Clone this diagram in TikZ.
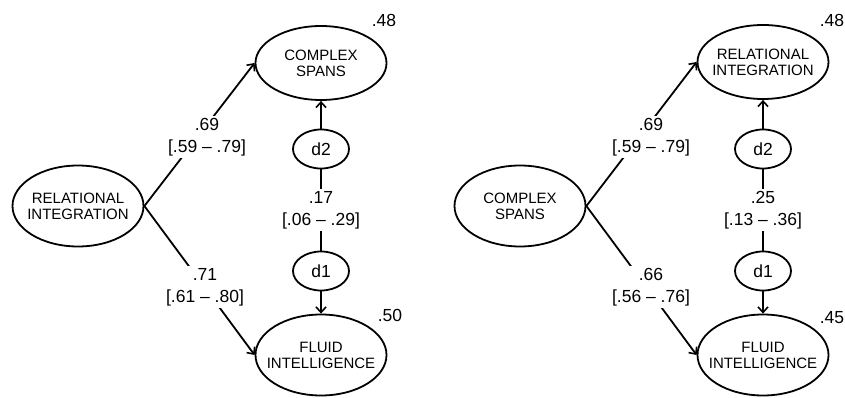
\documentclass[tikz,border=0pt]{standalone}
\usepackage{fontspec}
\setmainfont{Liberation Sans}
\usetikzlibrary{shapes.geometric,arrows.meta}
\begin{document}
\begin{tikzpicture}[x=1pt,y=-1pt,
  lat/.style={ellipse,draw,line width=1.8pt,minimum width=131pt,minimum height=81pt,inner xsep=-25pt,inner ysep=-12pt,align=center,font=\fontsize{15}{16}\selectfont},
  latsm/.style={lat,minimum height=74pt},
  dist/.style={ellipse,draw,line width=1.8pt,minimum width=56pt,minimum height=39pt,inner sep=-6pt,font=\fontsize{17.5}{20}\selectfont},
  coef/.style={fill=white,align=center,inner sep=2pt,font=\fontsize{17.5}{22}\selectfont},
  rsq/.style={font=\fontsize{17.5}{20}\selectfont},
  arr/.style={line width=1.8pt,-{Straight Barb[length=5.5pt,width=10pt,line width=1.6pt]}},
  link/.style={line width=1.8pt}]
\useasboundingbox (0,0) rectangle (845,398);
% left panel
\node[lat] (RIa) at (78,206) {RELATIONAL\\INTEGRATION};
\node[latsm] (CSa) at (321,63) {COMPLEX\\SPANS};
\node[lat] (FIa) at (321,355) {FLUID\\INTELLIGENCE};
\node[dist] (d2a) at (321,149) {d2};
\node[dist] (d1a) at (321,271) {d1};
\draw[arr] (RIa.east) -- (CSa.west);
\draw[arr] (RIa.east) -- (FIa.west);
\draw[arr] (d2a) -- (CSa);
\draw[arr] (d1a) -- (FIa);
\draw[link] (d1a) -- (d2a);
\node[coef] (ca1) at (207,137) {.69\\{}[.59 -- .79]};
\node[coef] (ca2) at (205,287) {.71\\{}[.61 -- .80]};
\node[coef] (ca3) at (321,210) {.17\\{}[.06 -- .29]};
\node[rsq] (ra1) at (384,20) {.48};
\node[rsq] (ra2) at (390,315) {.50};
% right panel
\node[lat] (CSb) at (520,206) {COMPLEX\\SPANS};
\node[latsm] (RIb) at (763,62) {RELATIONAL\\INTEGRATION};
\node[lat] (FIb) at (763,355) {FLUID\\INTELLIGENCE};
\node[dist] (d2b) at (763,149) {d2};
\node[dist] (d1b) at (763,271) {d1};
\draw[arr] (CSb.east) -- (RIb.west);
\draw[arr] (CSb.east) -- (FIb.west);
\draw[arr] (d2b) -- (RIb);
\draw[arr] (d1b) -- (FIb);
\draw[link] (d1b) -- (d2b);
\node[coef] (cb1) at (651,137) {.69\\{}[.59 -- .79]};
\node[coef] (cb2) at (651,287) {.66\\{}[.56 -- .76]};
\node[coef] (cb3) at (763,210) {.25\\{}[.13 -- .36]};
\node[rsq] (rb1) at (832,20) {.48};
\node[rsq] (rb2) at (832,318) {.45};
\end{tikzpicture}
\end{document}
